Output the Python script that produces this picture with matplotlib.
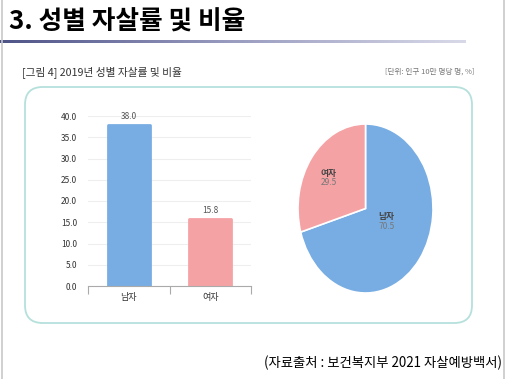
import matplotlib.pyplot as plt
import numpy as np
from matplotlib.patches import FancyBboxPatch
from matplotlib.lines import Line2D
from matplotlib.colors import LinearSegmentedColormap

plt.rcParams['font.family'] = ['Noto Sans CJK KR', 'DejaVu Sans']

categories = ['남자', '여자']
rates = [38.0, 15.8]
shares = [70.5, 29.5]
yticks = [0, 5, 10, 15, 20, 25, 30, 35, 40]
colors = ['#78ade3', '#f5a2a5']

W, H = 507, 379
fig = plt.figure(figsize=(W / 100, H / 100), dpi=100)
fig.patch.set_facecolor('white')

def fx(x):
    return x / W

def fy(y):
    return 1 - y / H

# slide edges
fig.add_artist(Line2D([fx(1.5), fx(1.5)], [0, 1], color='#c8c8c8', lw=1.2))
fig.add_artist(Line2D([fx(504), fx(504)], [0, 1], color='#c8c8c8', lw=1.2))

# title + gradient underline
fig.text(fx(9), fy(22), '3. 성별 자살률 및 비율', fontsize=18.5, fontweight='bold',
         va='center', ha='left', color='black')
gax = fig.add_axes([fx(0), fy(43), fx(466), 3 / H])
grad = np.linspace(0, 1, 256).reshape(1, -1)
cmap = LinearSegmentedColormap.from_list('g', ['#4f5488', '#9a9cc0', '#d8d9e8'])
gax.imshow(grad, aspect='auto', cmap=cmap)
gax.axis('off')

fig.text(fx(22), fy(72), '[그림 4] 2019년 성별 자살률 및 비율', fontsize=7.7,
         va='center', ha='left', color='#333333')
fig.text(fx(474), fy(72), '[단위: 인구 10만 명당 명, %]', fontsize=5.5,
         va='center', ha='right', color='#777777')

# rounded frame
box = FancyBboxPatch((fx(25), fy(323)), fx(472) - fx(25), fy(87) - fy(323),
                     boxstyle='round,pad=0,rounding_size=0.035',
                     transform=fig.transFigure, facecolor='none',
                     edgecolor='#b5e0dc', lw=1.3, mutation_aspect=W / H)
fig.add_artist(box)

# bar chart
ax = fig.add_axes([fx(88), fy(286), fx(251) - fx(88), fy(116) - fy(286)])
x = np.arange(len(categories))
bars = ax.bar(x, rates, width=0.51, color=colors, edgecolor=colors, linewidth=2)
for b in bars:
    b.set_joinstyle('round')
for xi, v in zip(x, rates):
    ax.text(xi, v + 0.9, f'{v:.1f}', ha='center', va='bottom', fontsize=6, color='#555555')
ax.set_xlim(-0.5, 1.5)
ax.set_ylim(0, 40)
ax.set_yticks(yticks)
ax.set_yticklabels([f'{t:.1f}' for t in yticks], fontsize=6, color='#333333')
ax.set_xticks([-0.5, 0.5, 1.5])
ax.set_xticklabels([])
ax.set_xticks(x, minor=True)
ax.set_xticklabels(categories, minor=True, fontsize=6.5, color='#333333')
ax.tick_params(axis='x', which='major', length=6, color='#aaaaaa', direction='out')
ax.tick_params(axis='x', which='minor', length=0, pad=5)
ax.tick_params(axis='y', length=0, pad=8)
ax.grid(axis='y', color='#eeeeee', lw=0.8)
ax.set_axisbelow(True)
for s in ['top', 'right', 'left']:
    ax.spines[s].set_visible(False)
ax.spines['bottom'].set_color('#aaaaaa')
ax.spines['bottom'].set_linewidth(0.8)

# pie chart
pax = fig.add_axes([fx(298), fy(293), fx(433) - fx(298), fy(124) - fy(293)])
pax.pie(shares, colors=colors, startangle=90, counterclock=False,
        wedgeprops=dict(edgecolor='white', linewidth=1.2))
pax.set_aspect('auto')
pax.set_xlim(-1, 1)
pax.set_ylim(-1, 1)
pax.text(0.31, -0.1, categories[0], ha='center', va='center', fontsize=6.3,
         fontweight='bold', color='#444444')
pax.text(0.31, -0.21, f'{shares[0]:.1f}', ha='center', va='center', fontsize=6, color='#777777')
pax.text(-0.55, 0.42, categories[1], ha='center', va='center', fontsize=6.3,
         fontweight='bold', color='#444444')
pax.text(-0.55, 0.31, f'{shares[1]:.1f}', ha='center', va='center', fontsize=6, color='#777777')

fig.text(fx(502), fy(363), '(자료출처 : 보건복지부 2021 자살예방백서)', fontsize=9.6,
         va='center', ha='right', color='black')

fig.savefig('out.png', dpi=100)
